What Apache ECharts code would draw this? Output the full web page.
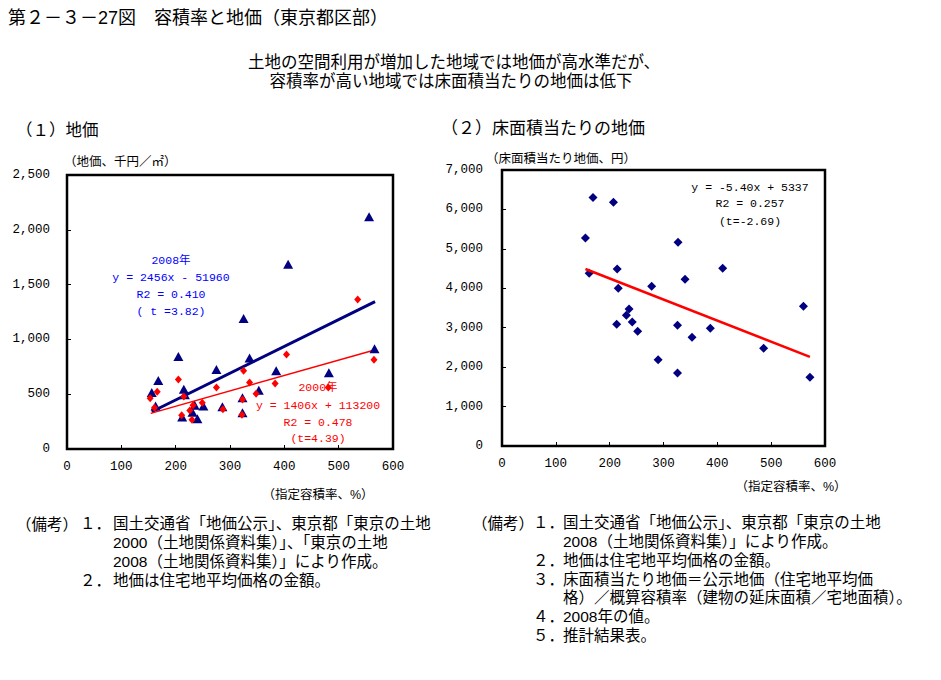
<!DOCTYPE html>
<html>
<head>
<meta charset="utf-8">
<script src="https://cdn.jsdelivr.net/npm/echarts@6/dist/echarts.min.js"></script>
<style>
html,body{margin:0;padding:0;background:#fff;}
#c{width:941px;height:680px;}
</style>
</head>
<body>
<div id="c"></div>
<script>
// ---- Data ----
// (1) 地価: 2008年 (triangles)
const ratio2008 = [556, 407, 325, 566, 205, 336, 275, 385, 482, 168, 215, 156, 353, 217, 323, 235, 251, 286, 163, 231, 323, 212, 240];
const land2008  = [2120, 1685, 1190, 915, 845, 830, 725, 715, 695, 625, 545, 515, 535, 495, 468, 400, 393, 385, 393, 335, 330, 292, 276];
// (1) 地価: 2000年 (diamonds)
const ratio2000 = [535, 404, 565, 325, 205, 336, 383, 275, 166, 481, 348, 153, 215, 323, 249, 161, 232, 226, 287, 211, 322, 230];
const land2000  = [1365, 862, 815, 713, 635, 606, 598, 561, 523, 560, 505, 462, 478, 452, 423, 377, 400, 352, 362, 308, 313, 268];
// trend line end points
const trend2008X = [156, 567];
const trend2008Y = [340, 1345];
const trend2000X = [154, 566];
const trend2000Y = [325, 904];
// (2) 床面積当たりの地価 (2008年)
const ratioFloor = [169, 207, 155, 327, 214, 410, 162, 340, 216, 278, 236, 231, 242, 213, 326, 387, 252, 353, 560, 486, 290, 326, 572];
const floorPrice = [6300, 6180, 5275, 5165, 4490, 4505, 4380, 4230, 4000, 4050, 3477, 3316, 3148, 3090, 3065, 2987, 2910, 2760, 3545, 2480, 2185, 1850, 1745];
const trendFloorX = [155, 572];
const trendFloorY = [4490, 2260];
// axis settings
const xTicks = {min: 0, max: 600, interval: 100};
const yTicksLand = {min: 0, max: 2500, interval: 500};
const yTicksFloor = {min: 0, max: 7000, interval: 1000};
// note lines: [number label, text]
const notesLeft = [
  ['１．', '国土交通省「地価公示」、東京都「東京の土地'],
  ['', '2000（土地関係資料集）」、「東京の土地'],
  ['', '2008（土地関係資料集）」により作成。'],
  ['２．', '地価は住宅地平均価格の金額。']
];
const notesRight = [
  ['１．', '国土交通省「地価公示」、東京都「東京の土地'],
  ['', '2008（土地関係資料集）」により作成。'],
  ['２．', '地価は住宅地平均価格の金額。'],
  ['３．', '床面積当たり地価＝公示地価（住宅地平均価'],
  ['', '格）／概算容積率（建物の延床面積／宅地面積）。'],
  ['４．', '2008年の値。'],
  ['５．', '推計結果表。']
];

const zip = (a, b) => a.map((v, i) => [v, b[i]]);
const comma = v => String(v).replace(/\B(?=(\d{3})+(?!\d))/g, ',');

const JP = '"Liberation Sans", "Noto Sans CJK JP", "Noto Sans CJK SC", sans-serif';
const MONO = '"Liberation Mono", "DejaVu Sans Mono", "Noto Sans CJK JP", monospace';
const NAVY = '#000080';
const RED = '#ff0000';

function txt(text, x, y, size, opts) {
  opts = opts || {};
  return {
    type: 'text', x: x, y: y, silent: true,
    style: {
      text: text, fill: opts.color || '#000',
      font: (size) + 'px ' + (opts.family || JP),
      textAlign: opts.align || 'left', align: opts.align || 'left',
      textVerticalAlign: 'middle', verticalAlign: 'middle'
    }
  };
}
function notesBlock(notes, x, yFirst, size, lh, numWidth) {
  const font = size + 'px ' + JP;
  return {
    type: 'text', x: x, y: yFirst - lh / 2, silent: true,
    style: {
      text: notes.map(n => '{n|' + (n[0] || '　') + '}{b|' + n[1] + '}').join('\n'),
      fill: '#000', font: font, lineHeight: lh,
      textAlign: 'left', align: 'left', textVerticalAlign: 'top', verticalAlign: 'top',
      rich: {
        n: {width: numWidth, font: font, lineHeight: lh, fill: '#000'},
        b: {font: font, lineHeight: lh, fill: '#000'}
      }
    }
  };
}

function xAxisCfg(grid) {
  return {
    gridIndex: grid, type: 'value', min: xTicks.min, max: xTicks.max, interval: xTicks.interval,
    axisLine: {show: true, onZero: false, lineStyle: {color: '#000', width: 2}},
    axisTick: {show: true, inside: true, length: 4, lineStyle: {color: '#000', width: 1}},
    splitLine: {show: false},
    axisLabel: {color: '#000', fontSize: 12.5, fontFamily: MONO, margin: 12}
  };
}
function yAxisCfg(grid, t, margin) {
  return {
    gridIndex: grid, type: 'value', min: t.min, max: t.max, interval: t.interval,
    axisLine: {show: true, onZero: false, lineStyle: {color: '#000', width: 2}},
    axisTick: {show: true, inside: true, length: 4, lineStyle: {color: '#000', width: 1}},
    splitLine: {show: false},
    axisLabel: {color: '#000', fontSize: 12.5, fontFamily: MONO, margin: margin, formatter: comma}
  };
}

const chart = echarts.init(document.getElementById('c'), null, {renderer: 'svg'});
const option = {
  backgroundColor: '#fff',
  animation: false,
  grid: [
    {left: 67, top: 175, width: 326, height: 274, show: true, borderColor: '#000', borderWidth: 2.5, backgroundColor: 'transparent'},
    {left: 502, top: 170, width: 323, height: 276, show: true, borderColor: '#000', borderWidth: 2.5, backgroundColor: 'transparent'}
  ],
  xAxis: [xAxisCfg(0), xAxisCfg(1)],
  yAxis: [yAxisCfg(0, yTicksLand, 17), yAxisCfg(1, yTicksFloor, 19)],
  series: [
    {type: 'line', xAxisIndex: 0, yAxisIndex: 0, data: zip(trend2008X, trend2008Y), symbol: 'none',
     lineStyle: {color: NAVY, width: 3}, silent: true, z: 2},
    {type: 'line', xAxisIndex: 0, yAxisIndex: 0, data: zip(trend2000X, trend2000Y), symbol: 'none',
     lineStyle: {color: RED, width: 1.5}, silent: true, z: 2},
    {type: 'scatter', xAxisIndex: 0, yAxisIndex: 0, data: zip(ratio2008, land2008), symbol: 'triangle',
     symbolSize: [10, 9], itemStyle: {color: NAVY, opacity: 1}, z: 3},
    {type: 'scatter', xAxisIndex: 0, yAxisIndex: 0, data: zip(ratio2000, land2000), symbol: 'diamond',
     symbolSize: [7, 8], itemStyle: {color: RED, opacity: 1}, z: 4},
    {type: 'scatter', xAxisIndex: 1, yAxisIndex: 1, data: zip(ratioFloor, floorPrice), symbol: 'diamond',
     symbolSize: [9, 9], itemStyle: {color: NAVY, opacity: 1}, z: 3},
    {type: 'line', xAxisIndex: 1, yAxisIndex: 1, data: zip(trendFloorX, trendFloorY), symbol: 'none',
     lineStyle: {color: RED, width: 2.5}, silent: true, z: 4}
  ],
  graphic: [
    txt('第２－３－27図　容積率と地価（東京都区部）', 8, 18, 18),
    txt('土地の空間利用が増加した地域では地価が高水準だが、', 454, 62, 16.5, {align: 'center'}),
    txt('容積率が高い地域では床面積当たりの地価は低下', 451, 80.5, 16.5, {align: 'center'}),
    txt('（１）地価', 16, 130, 16.5),
    txt('（２）床面積当たりの地価', 441, 128, 17),
    txt('（地価、千円／㎡）', 64, 162, 12.5),
    txt('（床面積当たり地価、円）', 486, 159, 12.5),
    txt('（指定容積率、%）', 318, 495, 12.5, {align: 'center'}),
    txt('（指定容積率、%）', 791, 487, 12.5, {align: 'center'}),
    // annotations in chart (1)
    txt('2008年', 171, 260, 11.5, {align: 'center', color: '#0000ff', family: MONO}),
    txt('y = 2456x - 51960', 171, 277, 11.5, {align: 'center', color: '#0000ff', family: MONO}),
    txt('R2 = 0.410', 171, 294, 11.5, {align: 'center', color: '#0000ff', family: MONO}),
    txt('( t =3.82)', 171, 311, 11.5, {align: 'center', color: '#0000ff', family: MONO}),
    txt('2000年', 318, 387, 11.5, {align: 'center', color: RED, family: MONO}),
    txt('y = 1406x + 113200', 318, 405, 11.5, {align: 'center', color: RED, family: MONO}),
    txt('R2 = 0.478', 318, 422, 11.5, {align: 'center', color: RED, family: MONO}),
    txt('(t=4.39)', 318, 438, 11.5, {align: 'center', color: RED, family: MONO}),
    // annotations in chart (2)
    txt('y = -5.40x + 5337', 750, 187, 11.5, {align: 'center', family: MONO}),
    txt('R2 = 0.257', 750, 203, 11.5, {align: 'center', family: MONO}),
    txt('(t=-2.69)', 750, 221, 11.5, {align: 'center', family: MONO}),
    // notes
    txt('（備考）', 16, 524, 15.5),
    notesBlock(notesLeft, 80, 524, 15.5, 18.7, 33),
    txt('（備考）', 472, 523, 15.5),
    notesBlock(notesRight, 533, 523, 15.5, 18.7, 30)
  ]
};
chart.setOption(option);
</script>
</body>
</html>
